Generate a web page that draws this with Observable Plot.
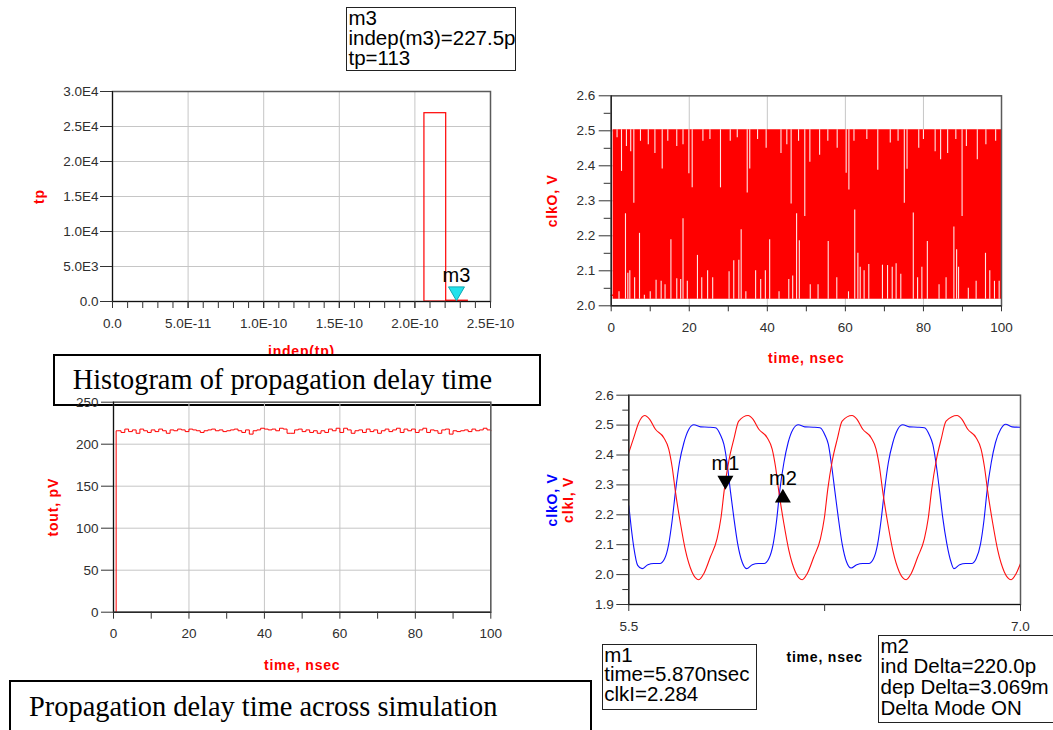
<!DOCTYPE html>
<html><head><meta charset="utf-8">
<script src="https://cdn.jsdelivr.net/npm/d3@7"></script>
<script src="https://cdn.jsdelivr.net/npm/@observablehq/plot@0.6"></script>
<style>
html,body{margin:0;padding:0;background:#fff;overflow:hidden;}
#page{position:relative;width:1053px;height:730px;overflow:hidden;font-family:"Liberation Sans",Arial,sans-serif;}
.panel{position:absolute;}
.box{position:absolute;background:#fff;box-sizing:border-box;}
.mk{border:1px solid #222;font-family:"Liberation Sans",Arial,sans-serif;font-size:20.5px;color:#000;white-space:pre;padding-left:1.5px;}
.cap{border:2px solid #000;}
.captext{position:absolute;font-family:"Liberation Serif","Times New Roman",serif;font-size:28.4px;line-height:1;white-space:nowrap;color:#000;}
</style></head><body><div id="page"></div>
<script>
// ---------- Panel 1: histogram of tp ----------
const histEdges = [1.0e-11, 2.063e-10, 2.207e-10, 2.35e-10];
const histCounts = [0, 26900, 113];
const histXTicks = [0, 5e-11, 1e-10, 1.5e-10, 2e-10, 2.5e-10];
const histYTicks = [0, 5000, 10000, 15000, 20000, 25000, 30000];
const m3Marker = {name: "m3", x: 227.5e-12, y: 113};

// ---------- Panel 2: clkO over 0..100 ns (dense) ----------
const clkStartT = [0, 0.5];
const clkStartV = [2.03, 2.03];
const clkEnvT = [0.5, 100];
const clkEnvLo = [2.019, 2.019];
const clkEnvHi = [2.503, 2.503];
const topSpikeT = [1.5,2.64,3.9,5.0,5.8,7.5,9.5,11.2,13.07,14.5,16.8,18.4,19.9,20.75,23.5,25.3,28.0,30.5,32.3,34.85,35.5,37.5,39.7,43.5,45.0,46.1,48.0,49.6,50.9,53.4,55.5,57.9,60.2,60.9,62.2,65.5,68.3,71.5,73.5,75.1,75.8,78.8,80.0,83.0,84.4,86.2,88.3,89.9,91.0,93.8,96.0,98.5];
const topSpikeV = [2.48,2.384,2.455,2.44,2.293,2.47,2.46,2.435,2.391,2.47,2.455,2.46,2.377,2.337,2.47,2.475,2.337,2.47,2.48,2.322,2.391,2.475,2.45,2.435,2.46,2.291,2.47,2.255,2.41,2.43,2.47,2.45,2.379,2.331,2.47,2.475,2.387,2.465,2.47,2.293,2.39,2.45,2.475,2.44,2.417,2.435,2.475,2.255,2.455,2.417,2.46,2.47];
const botSpikeT = [2.0,3.66,4.26,4.77,6.0,7.25,8.5,10.0,11.5,12.8,13.8,15.3,16.8,17.8,18.4,19.5,22.1,23.2,24.7,26.0,30.2,31.4,32.7,33.3,34.5,37.0,38.3,39.5,40.6,43.0,45.5,46.5,47.5,48.2,51.0,53.0,55.6,57.8,60.8,62.4,63.2,63.8,64.8,66.0,69.5,70.8,72.0,73.0,74.2,77.4,78.5,79.6,81.0,84.0,85.8,87.8,88.5,89.0,91.5,93.5,95.9,97.0,98.2,99.4];
const botSpikeV = [2.04,2.263,2.093,2.10,2.08,2.207,2.03,2.04,2.073,2.07,2.06,2.189,2.077,2.075,2.249,2.07,2.144,2.08,2.10,2.08,2.097,2.129,2.13,2.217,2.04,2.10,2.075,2.10,2.189,2.04,2.075,2.085,2.263,2.186,2.06,2.06,2.184,2.08,2.04,2.274,2.15,2.11,2.10,2.118,2.116,2.115,2.11,2.12,2.09,2.265,2.08,2.11,2.184,2.06,2.08,2.225,2.16,2.11,2.05,2.07,2.15,2.10,2.07,2.07];
const clkXTicks = [0, 20, 40, 60, 80, 100];
const clkXMinor = [10, 30, 50, 70, 90];
const clkYTicks = [2.0, 2.1, 2.2, 2.3, 2.4, 2.5, 2.6];
const clkYMinor = [2.05, 2.15, 2.25, 2.35, 2.45, 2.55];

// ---------- Panel 3: tout (propagation delay) ----------
const toutT = [0.6,0.7,1,2,3,4,5,6,7,8,9,10,11,12,13,14,15,16,17,18,19,20,21,22,23,24,25,26,27,28,29,30,31,32,33,34,35,36,37,38,39,40,41,42,43,44,45,46,47,48,49,50,51,52,53,54,55,56,57,58,59,60,61,62,63,64,65,66,67,68,69,70,71,72,73,74,75,76,77,78,79,80,81,82,83,84,85,86,87,88,89,90,91,92,93,94,95,96,97,98,99,100];
const toutV = [0,216,
  216,214,218,215,217,213,218,216,214,217,
  215,218,216,213,217,216,218,217,215,218,
  217,216,214,216,217,218,216,217,215,216,
  217,218,216,214,217,212,216,217,219,218,
  217,218,216,219,218,213,213,217,218,215,
  217,214,216,213,216,214,218,216,219,214,
  219,217,213,216,217,214,218,215,217,213,
  216,218,215,217,219,214,218,216,218,214,
  217,219,214,217,216,213,217,218,212,216,
  215,216,217,215,218,216,217,219,217,216];
const toutXTicks = [0, 20, 40, 60, 80, 100];
const toutXMinor = [10, 30, 50, 70, 90];
const toutYTicks = [0, 50, 100, 150, 200, 250];

// ---------- Panel 4: clkI / clkO zoom 5.5..7.0 ns ----------
const clkIT = [5.500,5.519,5.538,5.561,5.580,5.602,5.634,5.653,5.666,5.678,5.698,5.717,5.742,5.768,5.787,5.812,5.838,5.853,5.866,5.883,5.902,5.921,
  5.957,5.976,5.998,6.030,6.049,6.062,6.074,6.094,6.113,6.138,6.164,6.183,6.208,6.234,6.249,6.262,6.279,6.298,6.317,
  6.355,6.374,6.396,6.428,6.447,6.460,6.472,6.492,6.511,6.536,6.562,6.581,6.606,6.632,6.647,6.660,6.677,6.696,6.715,
  6.757,6.776,6.798,6.830,6.849,6.862,6.874,6.894,6.913,6.938,6.964,6.983,7.000];
const clkIV = [2.408,2.458,2.508,2.532,2.519,2.486,2.458,2.420,2.360,2.281,2.170,2.081,2.009,1.983,2.003,2.058,2.120,2.190,2.286,2.380,2.452,2.513,
  2.532,2.519,2.486,2.458,2.420,2.360,2.281,2.170,2.081,2.009,1.983,2.003,2.058,2.120,2.190,2.286,2.380,2.452,2.513,
  2.532,2.519,2.486,2.458,2.420,2.360,2.281,2.170,2.081,2.009,1.983,2.003,2.058,2.120,2.190,2.286,2.380,2.452,2.513,
  2.532,2.519,2.486,2.458,2.420,2.360,2.281,2.170,2.081,2.009,1.983,2.003,2.037];
const clkOT = [5.500,5.509,5.519,5.534,5.551,5.573,5.596,5.619,5.637,5.653,5.666,5.679,5.694,5.711,5.730,5.749,5.775,5.806,5.832,5.851,5.864,5.877,5.889,5.902,5.917,5.934,
  5.951,5.973,5.996,6.018,6.036,6.053,6.066,6.078,6.094,6.110,6.129,6.149,6.174,6.206,6.232,6.251,6.264,6.276,6.289,6.302,6.317,6.334,
  6.351,6.373,6.396,6.419,6.437,6.453,6.466,6.479,6.494,6.511,6.530,6.549,6.574,6.606,6.632,6.651,6.664,6.677,6.690,6.702,6.718,6.734,
  6.745,6.767,6.790,6.813,6.830,6.847,6.860,6.872,6.888,6.904,6.924,6.943,6.968,7.000];
const clkOV = [2.231,2.159,2.092,2.031,2.020,2.033,2.037,2.037,2.053,2.103,2.181,2.280,2.375,2.441,2.486,2.501,2.494,2.493,2.491,2.467,2.436,2.369,2.280,2.192,2.103,2.042,
  2.020,2.033,2.037,2.037,2.053,2.103,2.181,2.280,2.375,2.441,2.486,2.501,2.494,2.493,2.491,2.467,2.436,2.369,2.280,2.192,2.103,2.042,
  2.022,2.033,2.037,2.037,2.053,2.103,2.181,2.280,2.375,2.441,2.486,2.501,2.494,2.493,2.491,2.467,2.436,2.369,2.280,2.192,2.103,2.042,
  2.020,2.033,2.037,2.037,2.053,2.103,2.181,2.280,2.375,2.441,2.486,2.503,2.494,2.493];
const zoomXTicks = [5.5, 7.0];
const zoomXMinor = [6.25];
const zoomYTicks = [1.9, 2.0, 2.1, 2.2, 2.3, 2.4, 2.5, 2.6];
const zoomYMinor = [1.95, 2.05, 2.15, 2.25, 2.35, 2.45, 2.55];
const m1Marker = {name: "m1", x: 5.870, y: 2.284};
const m2Marker = {name: "m2", x: 6.090, y: 2.287};

// ---------- marker readouts and captions ----------
const m3Readout = ["m3", "indep(m3)=227.5p", "tp=113"];
const m1Readout = ["m1", "time=5.870nsec", "clkI=2.284"];
const m2Readout = ["m2", "ind Delta=220.0p", "dep Delta=3.069m", "Delta Mode ON"];
const captions = ["Histogram of propagation delay time", "Propagation delay time across simulation"];

// ---------- helpers ----------
const page = document.getElementById("page");
const AX = "#333", TXT = "#2e2e2e", GRID = "#c6c6c6", FRAME = "#5a5a5a";
const baseStyle = {fontFamily: '"Liberation Sans", Arial, sans-serif', fontSize: "13.5px", background: "transparent", overflow: "visible"};
const fmtE = d => d === 0 ? "0.0" : d.toExponential(1).replace("e+", "E").replace("e-", "E-");
const f1 = d3.format(".1f");
const axisLabels = new Set(["tp", "indep(tp)", "clkO, V", "time, nsec", "tout, pV", "clkI, V"]);
function place(svg, left, top) {
  svg.querySelectorAll("text").forEach(t => { if (axisLabels.has(t.textContent)) t.style.letterSpacing = "0.8px"; });
  const d = document.createElement("div");
  d.className = "panel"; d.style.left = left + "px"; d.style.top = top + "px";
  d.appendChild(svg); page.appendChild(d);
}
function yLabel(txt, dx, color) {
  return Plot.text([txt], {text: d => d, frameAnchor: "left", dx, rotate: -90, textAnchor: "middle", lineAnchor: "middle", fill: color, fontWeight: "bold", fontSize: 14});
}
function xLabel(txt, dy, color) {
  return Plot.text([txt], {text: d => d, frameAnchor: "bottom", dy, textAnchor: "middle", lineAnchor: "middle", fill: color, fontWeight: "bold", fontSize: 14});
}
function box(cls, left, top, w, h, lines, lh) {
  const d = document.createElement("div");
  d.className = "box " + cls;
  Object.assign(d.style, {left: left + "px", top: top + "px", width: w + "px", height: h + "px", lineHeight: lh + "px"});
  if (lines.length) d.textContent = lines.join("\n");
  page.appendChild(d);
  return d;
}
function caption(txt, left, top) {
  const d = document.createElement("div");
  d.className = "captext"; d.textContent = txt;
  d.style.left = left + "px"; d.style.top = top + "px";
  page.appendChild(d);
}

// ---------- Panel 1 ----------
const bins = histCounts.map((c, i) => ({x1: histEdges[i], x2: histEdges[i + 1], y: c}));
const p1 = Plot.plot({
  width: 540, height: 280, marginLeft: 112, marginRight: 50, marginTop: 11, marginBottom: 59,
  style: baseStyle,
  x: {domain: [0, 2.5e-10], axis: null, label: null},
  y: {domain: [0, 30000], axis: null, label: null},
  marks: [
    Plot.gridX(histXTicks, {stroke: GRID, strokeOpacity: 1}),
    Plot.gridY(histYTicks, {stroke: GRID, strokeOpacity: 1}),
    Plot.ruleY(bins.filter(d => d.y === 0), {y: "y", x1: "x1", x2: "x2", stroke: "red", strokeWidth: 1.2}),
    Plot.rectY(bins.filter(d => d.y > 0), {x1: "x1", x2: "x2", y: "y", fill: "none", stroke: "red", strokeWidth: 1.2}),
    Plot.frame({stroke: FRAME, strokeWidth: 1.5}),
    Plot.ruleX([0], {stroke: "#111"}),
    Plot.ruleY([0], {stroke: "#111"}),
    Plot.axisX(d3.range(0, 2.55e-10, 1e-11), {tickSize: 7, tickFormat: () => "", stroke: AX, label: null}),
    Plot.axisX(histXTicks, {tickSize: 7, tickPadding: 10, tickFormat: fmtE, stroke: AX, fill: TXT, label: null}),
    Plot.axisY(histYTicks, {tickSize: 12, tickPadding: 2, tickFormat: fmtE, stroke: AX, fill: TXT, label: null}),
    Plot.dot([m3Marker], {x: "x", y: "y", symbol: "triangle", rotate: 180, r: 5.94, fill: "#22e2ec", stroke: "#12a9b2", strokeWidth: 1, dy: -9.2}),
    Plot.text([m3Marker], {x: "x", y: "y", text: "name", dy: -25.6, fontSize: 20, fill: "#000", lineAnchor: "middle"}),
    yLabel("tp", -73, "red"),
    xLabel("indep(tp)", 50, "red")
  ]
});
place(p1, 0, 80);
box("mk", 346, 6.5, 170, 64.5, m3Readout, 20);

// caption box over panel 1's x label, under panel 3
box("cap", 53, 353.5, 488, 52, [], 10);
caption(captions[0], 72.7, 366.2);

// ---------- Panel 2 ----------
const startSeg = clkStartT.map((t, i) => ({t, v: clkStartV[i]}));
const env = clkEnvT.map((t, i) => ({t, lo: clkEnvLo[i], hi: clkEnvHi[i]}));
const topSp = topSpikeT.map((t, i) => ({t, v: topSpikeV[i]}));
const botSp = botSpikeT.map((t, i) => ({t, v: botSpikeV[i]}));
const p2 = Plot.plot({
  width: 513, height: 290, marginLeft: 70.7, marginRight: 52, marginTop: 15.3, marginBottom: 64.7,
  style: baseStyle,
  x: {domain: [0, 100], axis: null, label: null},
  y: {domain: [2.0, 2.6], axis: null, label: null},
  marks: [
    Plot.gridX(clkXTicks, {stroke: GRID, strokeOpacity: 1}),
    Plot.gridY(clkYTicks, {stroke: GRID, strokeOpacity: 1}),
    Plot.line(startSeg, {x: "t", y: "v", stroke: "red", strokeWidth: 1.5}),
    Plot.areaY(env, {x: "t", y1: "lo", y2: "hi", fill: "#ff0000"}),
    Plot.ruleX(topSp, {x: "t", y1: "v", y2: () => clkEnvHi[0], stroke: "#fff", strokeWidth: 1.1, strokeOpacity: 0.9}),
    Plot.ruleX(botSp, {x: "t", y1: () => clkEnvLo[0], y2: "v", stroke: "#fff", strokeWidth: 1.1, strokeOpacity: 0.9}),
    Plot.frame({stroke: FRAME, strokeWidth: 1.5}),
    Plot.ruleX([0], {stroke: "#111"}),
    Plot.ruleY([2.0], {stroke: "#111"}),
    Plot.axisX(clkXMinor, {tickSize: 6, tickFormat: () => "", stroke: AX, label: null}),
    Plot.axisX(clkXTicks, {tickSize: 6, tickPadding: 10.7, tickFormat: d3.format("d"), stroke: AX, fill: TXT, label: null}),
    Plot.axisY(clkYMinor, {tickSize: 7, tickFormat: () => "", stroke: AX, label: null}),
    Plot.axisY(clkYTicks, {tickSize: 12, tickPadding: 4, tickFormat: f1, stroke: AX, fill: TXT, label: null}),
    yLabel("clkO, V", -59, "red"),
    xLabel("time, nsec", 52.7, "red")
  ]
});
place(p2, 540, 80);

// ---------- Panel 3 ----------
const tout = toutT.map((t, i) => ({t, v: toutV[i]}));
const p3 = Plot.plot({
  width: 540, height: 300, marginLeft: 113, marginRight: 49.7, marginTop: 21.7, marginBottom: 68.3,
  style: baseStyle,
  x: {domain: [0, 100], axis: null, label: null},
  y: {domain: [0, 250], axis: null, label: null},
  marks: [
    Plot.gridX(toutXTicks, {stroke: GRID, strokeOpacity: 1}),
    Plot.gridY(toutYTicks, {stroke: GRID, strokeOpacity: 1}),
    Plot.line(tout, {x: "t", y: "v", curve: "step-after", stroke: "red", strokeWidth: 1}),
    Plot.frame({stroke: FRAME, strokeWidth: 1.5}),
    Plot.ruleX([0], {stroke: "#111"}),
    Plot.ruleY([0], {stroke: "#111"}),
    Plot.axisX(toutXMinor, {tickSize: 7, tickFormat: () => "", stroke: AX, label: null}),
    Plot.axisX(toutXTicks, {tickSize: 7, tickPadding: 9.6, tickFormat: d3.format("d"), stroke: AX, fill: TXT, label: null}),
    Plot.axisY(toutYTicks, {tickSize: 12, tickPadding: 3, tickFormat: d3.format("d"), stroke: AX, fill: TXT, label: null}),
    yLabel("tout, pV", -60, "red"),
    xLabel("time, nsec", 53.3, "red")
  ]
});
place(p3, 0, 380);

// ---------- Panel 4 ----------
const clkI = clkIT.map((t, i) => ({t, v: clkIV[i]}));
const clkO = clkOT.map((t, i) => ({t, v: clkOV[i]}));
const p4 = Plot.plot({
  width: 513, height: 270, marginLeft: 88.3, marginRight: 33, marginTop: 14.7, marginBottom: 46,
  style: baseStyle,
  x: {domain: [5.5, 7.0], axis: null, label: null},
  y: {domain: [1.9, 2.6], axis: null, label: null},
  marks: [
    Plot.gridY(zoomYTicks, {stroke: GRID, strokeOpacity: 1}),
    Plot.line(clkO, {x: "t", y: "v", stroke: "#1010ff", strokeWidth: 1.1, curve: "monotone-x"}),
    Plot.line(clkI, {x: "t", y: "v", stroke: "#ff1010", strokeWidth: 1.1, curve: "monotone-x"}),
    Plot.frame({stroke: FRAME, strokeWidth: 1.5}),
    Plot.ruleX([5.5], {stroke: "#111"}),
    Plot.ruleY([1.9], {stroke: "#111"}),
    Plot.axisX(zoomXMinor, {tickSize: 7, tickFormat: () => "", stroke: AX, label: null}),
    Plot.axisX(zoomXTicks, {tickSize: 7, tickPadding: 10.3, tickFormat: f1, stroke: AX, fill: TXT, label: null}),
    Plot.axisY(zoomYMinor, {tickSize: 6, tickFormat: () => "", stroke: AX, label: null}),
    Plot.axisY(zoomYTicks, {tickSize: 12, tickPadding: 3, tickFormat: f1, stroke: AX, fill: TXT, label: null}),
    Plot.dot([m1Marker], {x: "x", y: "y", symbol: "triangle", rotate: 180, r: 5.94, fill: "#000", dy: -9.2}),
    Plot.text([m1Marker], {x: "x", y: "y", text: "name", dy: -25.6, fontSize: 20, fill: "#000", lineAnchor: "middle"}),
    Plot.dot([m2Marker], {x: "x", y: "y", symbol: "triangle", r: 5.94, fill: "#000", dy: 9.2}),
    Plot.text([m2Marker], {x: "x", y: "y", text: "name", dy: -9.7, fontSize: 20, fill: "#000", lineAnchor: "middle"}),
    yLabel("clkO, V", -76, "#0000ff"),
    yLabel("clkI, V", -60, "red"),
    xLabel("time, nsec", 53, "#000")
  ]
});
place(p4, 540, 380);

// ---------- remaining boxes ----------
box("mk", 601.7, 643.5, 155.5, 66, m1Readout, 19.5);
box("mk", 878, 634.5, 190, 88, m2Readout, 20.7);
box("cap", 9, 679.5, 583, 70, [], 10);
caption(captions[1], 29, 693.2);
</script></body></html>
